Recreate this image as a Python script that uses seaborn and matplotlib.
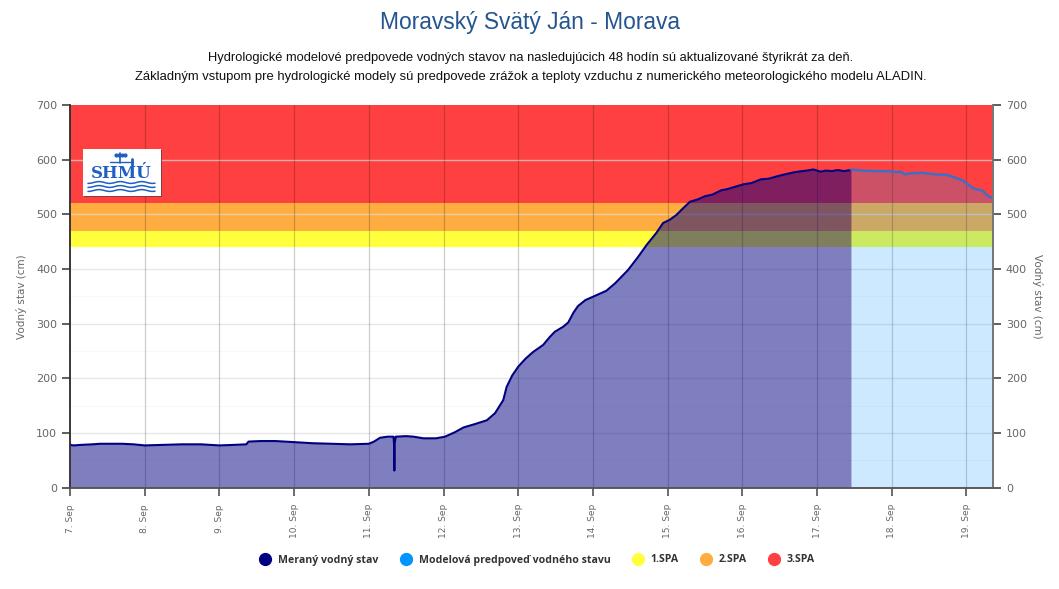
import numpy as np
import matplotlib
matplotlib.use('Agg')
import matplotlib.pyplot as plt
from matplotlib.lines import Line2D
import seaborn as sns

sns.set_style("white")
plt.rcParams['font.family'] = ['DejaVu Sans']

# cas = den v septembri
dni_mer = [7.0, 7.05, 7.15, 7.3, 7.4, 7.5, 7.7, 7.85, 8.0, 8.25, 8.5, 8.75, 9.0, 9.2, 9.36, 9.39, 9.55, 9.75, 10.0, 10.25,
           10.5, 10.75, 11.0, 11.07, 11.15, 11.25, 11.33, 11.338, 11.342, 11.346, 11.36, 11.5, 11.6, 11.73, 11.9,
           12.02, 12.15, 12.27, 12.42, 12.58, 12.69, 12.8, 12.845, 12.92, 13.0, 13.1, 13.2, 13.335, 13.42, 13.49,
           13.6, 13.67, 13.74, 13.8, 13.9, 14.0, 14.18, 14.3, 14.47, 14.6, 14.72, 14.85, 14.94, 15.03, 15.12, 15.2, 15.3,
           15.4, 15.5, 15.6, 15.72, 15.8, 15.92, 16.02, 16.12, 16.25, 16.35, 16.48, 16.6, 16.7, 16.8, 16.87, 16.95,
           17.05, 17.12, 17.2, 17.28, 17.36, 17.455]
hladina_mer = [78, 77, 78, 79, 80, 80, 80, 79, 77, 78, 79, 79, 77, 78, 79, 84, 85, 85, 83, 81,
               80, 79, 80, 84, 91, 93, 93, 80, 31, 80, 93, 94, 93, 90, 90,
               93, 101, 110, 116, 123, 136, 160, 184, 205, 221, 236, 248, 261, 275, 285,
               294, 302, 320, 332, 343, 349, 360, 374, 398, 421, 444, 466, 484, 490, 499, 510, 523,
               527, 533, 536, 544, 546, 551, 555, 557, 564, 565, 570, 574, 577, 579, 580, 582,
               578, 580, 579, 581, 579, 581]

dni_pred = [17.455, 17.6, 17.8, 17.98, 18.05, 18.13, 18.17, 18.25, 18.4, 18.6, 18.75, 18.85, 18.95, 19.03, 19.1, 19.22, 19.3, 19.36]
hladina_pred = [582, 580, 579, 579, 577, 578, 573, 575, 576, 573, 572, 567, 562, 554, 547, 543, 532, 530]

spa_hranice = [440, 470, 520, 700]
spa_farby = ['#FFFF3C', '#FFAD40', '#FF4040']
spa_nazvy = ['1.SPA', '2.SPA', '3.SPA']

dni_ticks = [7, 8, 9, 10, 11, 12, 13, 14, 15, 16, 17, 18, 19]
dni_labels = [f'{d}. Sep' for d in dni_ticks]
y_ticks = [0, 100, 200, 300, 400, 500, 600, 700]
y_minor = [50, 150, 250, 350]

SIRKA, VYSKA = 1059, 589
fig = plt.figure(figsize=(SIRKA / 100, VYSKA / 100), dpi=100)
ax = fig.add_axes([70 / SIRKA, 1 - 487.5 / VYSKA, 923 / SIRKA, 382.5 / VYSKA])

# pasma SPA
for i, farba in enumerate(spa_farby):
    ax.axhspan(spa_hranice[i], spa_hranice[i + 1], color=farba, lw=0, zorder=0)

# mriezka
for y in y_ticks[1:-1]:
    ax.axhline(y, color='#dddddd', lw=1.0, alpha=0.7, zorder=1)
for y in y_minor:
    ax.axhline(y, color='#dddddd', lw=0.7, alpha=0.2, zorder=1)
for d in dni_ticks[1:]:
    ax.axvline(d, color='black', lw=0.9, alpha=0.2, zorder=1)

# plochy a ciary
ax.fill_between(dni_mer, hladina_mer, color='#000080', alpha=0.5, lw=0, zorder=2)
ax.fill_between(dni_pred, hladina_pred, color='#0094FF', alpha=0.2, lw=0, zorder=2)
sns.lineplot(x=dni_mer, y=hladina_mer, ax=ax, color='#000080', lw=1.5, estimator=None, sort=False, zorder=3)
sns.lineplot(x=dni_pred, y=hladina_pred, ax=ax, color='#3F6FC4', lw=1.8, estimator=None, sort=False, zorder=3)

ax.set_xlim(7, 19.356)
ax.set_ylim(0, 700)
ax.set_xticks(dni_ticks)
ax.set_xticklabels(dni_labels, rotation=90, fontsize=6.5, color='#666666')
ax.set_yticks(y_ticks)
ax.tick_params(axis='y', length=5.8, width=1.1, color='#333333', labelsize=8, labelcolor='#666666', pad=3.5, left=True)
ax.tick_params(axis='x', length=5.8, width=1.1, color='#444444', pad=6, bottom=True)
ax.set_ylabel('Vodný stav (cm)', fontsize=7.5, color='#666666', va='center')
ax.yaxis.set_label_coords((22 - 70) / 923, 0.5)

ax2 = ax.twinx()
ax2.set_ylim(0, 700)
ax2.set_yticks(y_ticks)
ax2.tick_params(axis='y', length=5.8, width=1.1, color='#333333', labelsize=8, labelcolor='#666666', pad=3.5, right=True)
ax2.set_ylabel('Vodný stav (cm)', fontsize=7.5, color='#666666', rotation=270, va='center')
ax2.yaxis.set_label_coords((1038 - 70) / 923, 0.5)

for a in [ax, ax2]:
    a.spines['top'].set_visible(False)
    a.spines['left'].set_color('#333333')
    a.spines['right'].set_color('#777777')
    a.spines['bottom'].set_color('#555555')
    a.spines['left'].set_linewidth(1.1)
    a.spines['right'].set_linewidth(1.3)
    a.spines['bottom'].set_linewidth(1.1)

# nadpisy
fig.text(530.5 / SIRKA, 1 - 23 / VYSKA, 'Moravský Svätý Ján - Morava', ha='center', va='center',
         fontsize=16.4, color='#24558F', family='Liberation Sans')
fig.text(530.5 / SIRKA, 1 - 58 / VYSKA, 'Hydrologické modelové predpovede vodných stavov na nasledujúcich 48 hodín sú aktualizované štyrikrát za deň.',
         ha='center', va='center', fontsize=9.25, color='#111111', family='Liberation Sans')
fig.text(530.5 / SIRKA, 1 - 77 / VYSKA, 'Základným vstupom pre hydrologické modely sú predpovede zrážok a teploty vzduchu z numerického meteorologického modelu ALADIN.',
         ha='center', va='center', fontsize=9.35, color='#111111', family='Liberation Sans')

# logo SHMU
tien = fig.add_axes([84 / SIRKA, 1 - 197 / VYSKA, 78 / SIRKA, 47 / VYSKA], zorder=4)
tien.set_facecolor('#8a3a3a')
tien.set_xticks([]); tien.set_yticks([])
for s in tien.spines.values():
    s.set_visible(False)
logo = fig.add_axes([83 / SIRKA, 1 - 196 / VYSKA, 78 / SIRKA, 47 / VYSKA], zorder=5)
logo.set_xlim(0, 78); logo.set_ylim(47, 0)
logo.set_xticks([]); logo.set_yticks([])
logo.set_facecolor('white')
for s in logo.spines.values():
    s.set_visible(False)
modra = '#1E5FC0'
logo.text(38.5, 25, 'SHMÚ', ha='center', va='center', fontsize=12, fontweight='bold', color=modra, family='DejaVu Serif')
logo.plot([27, 50], [13, 13], color=modra, lw=1)
logo.plot([37, 37], [4, 14], color=modra, lw=1.2)
logo.plot([33, 36, 39, 42], [6, 6, 6, 6], 'o', color=modra, ms=2)
logo.plot([49, 49], [10, 16], color=modra, lw=2)
xv = np.linspace(5, 72, 120)
for y0 in [33.5, 37.5, 41.5]:
    logo.plot(xv, y0 + np.sin(xv / 3.4) * 0.9, color=modra, lw=1.1)

# legenda
polozky = [('#000080', 'Meraný vodný stav'), ('#0094FF', 'Modelová predpoveď vodného stavu')] + list(zip(spa_farby, spa_nazvy))
handles = [Line2D([], [], ls='none', marker='o', ms=8.5, color=f, label=n) for f, n in polozky]
leg = fig.legend(handles=handles, loc='center', bbox_to_anchor=(535 / SIRKA, 1 - 560 / VYSKA), ncol=5, frameon=False,
                 handletextpad=0.2, columnspacing=1.6,
                 prop={'family': 'Open Sans', 'weight': 'bold', 'size': 7.6})
for t in leg.get_texts():
    t.set_color('#333333')

fig.savefig('out.png', dpi=100)
